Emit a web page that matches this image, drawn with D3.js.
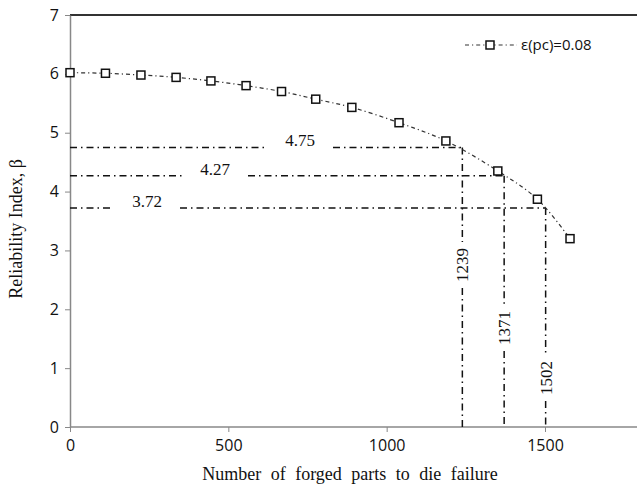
<!DOCTYPE html>
<html>
<head>
<meta charset="utf-8">
<script src="https://cdnjs.cloudflare.com/ajax/libs/d3/7.8.5/d3.min.js"></script>
<style>
  body { margin: 0; background: #fff; }
</style>
</head>
<body>
<div class="chart"></div>
<script>
const width = 637;
const height = 486;

// series: epsilon(pc) = 0.08
const parts = [0, 112, 224, 335, 445, 556, 668, 776, 890, 1039, 1187, 1351, 1476, 1579];
const beta = [6.02, 6.01, 5.98, 5.94, 5.88, 5.80, 5.70, 5.57, 5.43, 5.17, 4.86, 4.35, 3.87, 3.20];

// reference readings
const refBeta = [4.75, 4.27, 3.72];
const refParts = [1239, 1371, 1502];
const hLabelX = [300, 215, 147];   // label centre, pixels
const vLabelY = [265, 328, 378];

const xTicks = [0, 500, 1000, 1500];
const yTicks = [0, 1, 2, 3, 4, 5, 6, 7];

const margin = { top: 15, right: 0, bottom: 59, left: 70 };

const svg = d3.select(".chart").append("svg")
  .attr("width", width)
  .attr("height", height);

const x = d3.scaleLinear().domain([0, 1800]).range([margin.left, 640]);
const y = d3.scaleLinear().domain([0, 7]).range([height - margin.bottom, margin.top]);

const tickFont = "'Open Sans', 'DejaVu Sans', sans-serif";
const serif = "'Liberation Serif', 'DejaVu Serif', serif";

// top border
svg.append("line")
  .attr("x1", x(0)).attr("x2", width)
  .attr("y1", y(7)).attr("y2", y(7))
  .attr("stroke", "#333").attr("stroke-width", 2);

// axes
const xAxis = svg.append("g")
  .attr("transform", `translate(0,${y(0)})`)
  .call(d3.axisBottom(x).tickValues(xTicks).tickFormat(d3.format("d"))
    .tickSize(5).tickSizeOuter(0).tickPadding(8));
const yAxis = svg.append("g")
  .attr("transform", `translate(${x(0)},0)`)
  .call(d3.axisLeft(y).tickValues(yTicks).tickFormat(d3.format("d"))
    .tickSize(5).tickSizeOuter(0).tickPadding(6));

[xAxis, yAxis].forEach(g => {
  g.select(".domain").attr("stroke", "#888").attr("stroke-width", 1.5);
  g.selectAll(".tick line").attr("stroke", "#888");
  g.selectAll("text").attr("font-family", tickFont).attr("font-size", 16).attr("fill", "#111");
});
xAxis.select(".domain").attr("d", `M${x(0)},0H${width}`);

// reference lines
const refG = svg.append("g")
  .attr("stroke", "#111").attr("stroke-width", 1.5)
  .attr("stroke-dasharray", "7,4,1.5,4").attr("fill", "none");

refBeta.forEach((b, i) => {
  const yy = y(b);
  const x2 = x(refParts[i]);
  const gapL = hLabelX[i] - 33, gapR = hLabelX[i] + 33;
  refG.append("line").attr("x1", x(0)).attr("x2", gapL).attr("y1", yy).attr("y2", yy);
  refG.append("line").attr("x1", gapR).attr("x2", x2).attr("y1", yy).attr("y2", yy);
  svg.append("text")
    .attr("x", hLabelX[i]).attr("y", yy - 1)
    .attr("text-anchor", "middle")
    .attr("font-family", serif).attr("font-size", 17).attr("fill", "#111")
    .text(b.toFixed(2));

  const ly = vLabelY[i];
  refG.append("line").attr("x1", x2).attr("x2", x2).attr("y1", yy).attr("y2", ly - 23);
  refG.append("line").attr("x1", x2).attr("x2", x2).attr("y1", ly + 23).attr("y2", y(0));
  svg.append("text")
    .attr("transform", `translate(${x2 + 6},${ly}) rotate(-90)`)
    .attr("text-anchor", "middle")
    .attr("font-family", serif).attr("font-size", 17).attr("fill", "#111")
    .text(refParts[i]);
});

// series line
const pts = parts.map((p, i) => [p, beta[i]]);
const line = d3.line().x(d => x(d[0])).y(d => y(d[1])).curve(d3.curveCatmullRom);
svg.append("path")
  .datum(pts)
  .attr("d", line)
  .attr("fill", "none")
  .attr("stroke", "#333").attr("stroke-width", 1.2)
  .attr("stroke-dasharray", "4,3,1.2,3");

svg.append("g").selectAll("rect")
  .data(pts).enter()
  .append("rect")
  .attr("x", d => x(d[0]) - 4).attr("y", d => y(d[1]) - 4)
  .attr("width", 8).attr("height", 8)
  .attr("fill", "#fff").attr("stroke", "#111").attr("stroke-width", 1.5);

// legend
const lg = svg.append("g").attr("transform", "translate(465,45)");
lg.append("line").attr("x1", 0).attr("x2", 52).attr("y1", 0).attr("y2", 0)
  .attr("stroke", "#333").attr("stroke-width", 1.2).attr("stroke-dasharray", "4,3,1.2,3");
lg.append("rect").attr("x", 21).attr("y", -4).attr("width", 8).attr("height", 8)
  .attr("fill", "#fff").attr("stroke", "#111").attr("stroke-width", 1.5);
lg.append("text").attr("x", 56).attr("y", 5)
  .attr("font-family", tickFont).attr("font-size", 15).attr("fill", "#111")
  .text("ε(pc)=0.08");

// axis titles
svg.append("text")
  .attr("x", 350).attr("y", 480)
  .attr("text-anchor", "middle")
  .attr("font-family", serif).attr("font-size", 18).attr("fill", "#111")
  .attr("word-spacing", 5)
  .text("Number of forged parts to die failure");

svg.append("text")
  .attr("transform", "translate(22,229) rotate(-90)")
  .attr("text-anchor", "middle")
  .attr("font-family", serif).attr("font-size", 18).attr("fill", "#111")
  .text("Reliability Index, β");
</script>
</body>
</html>
